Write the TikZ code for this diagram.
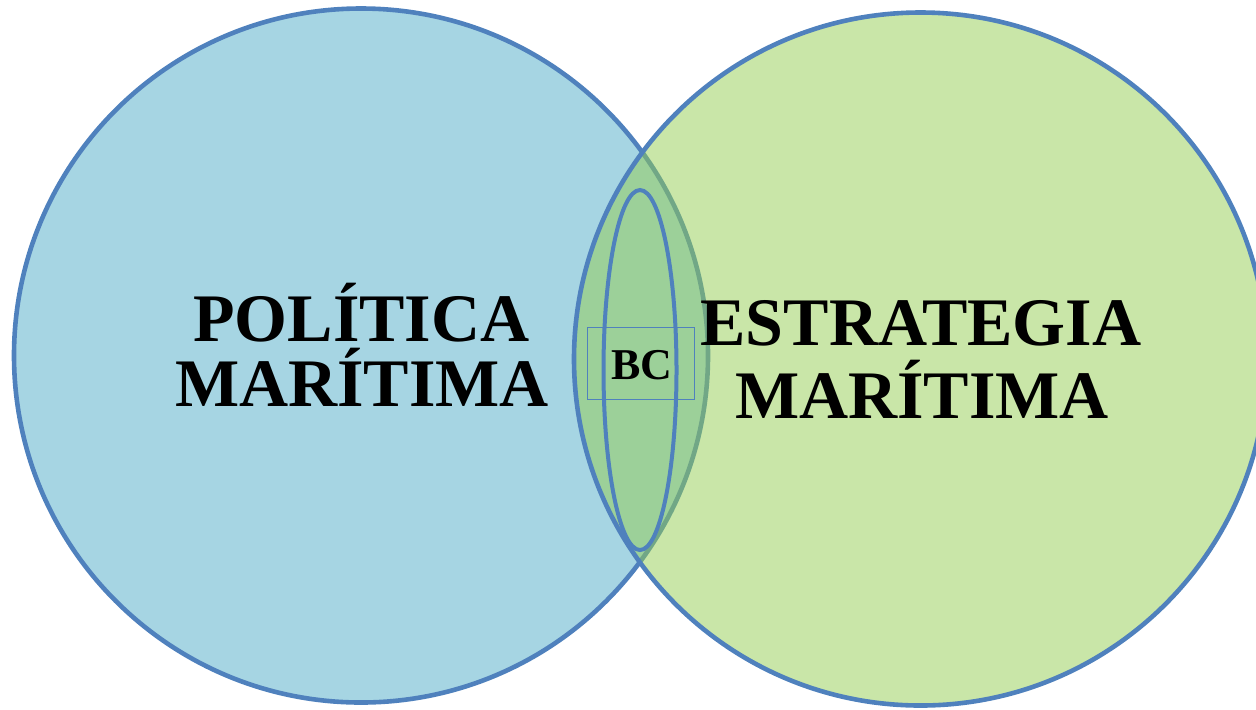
\documentclass[tikz,border=0pt]{standalone}
\usepackage{fontspec}
\setmainfont{Liberation Serif}
\usetikzlibrary{shapes.geometric,positioning}

\definecolor{edgeblue}{RGB}{79,129,189}
\definecolor{polfill}{RGB}{166,213,227}
\definecolor{estfill}{RGB}{147,205,81}

\begin{document}
\begin{tikzpicture}[
  x=0.5pt, y=-0.5pt,
  setcircle/.style={
    circle,
    draw=edgeblue,
    line width=2.3pt,
    inner sep=0pt
  },
  core/.style={
    ellipse,
    draw=edgeblue,
    line width=2pt,
    minimum width=36.5pt,
    minimum height=180pt,
    inner sep=0pt
  },
  tag/.style={
    draw=edgeblue,
    line width=0.6pt,
    minimum width=53.5pt,
    minimum height=35.8pt,
    inner sep=0pt
  },
  bigword/.style={
    font=\fontsize{34}{34}\selectfont\bfseries,
    anchor=base,
    inner sep=0pt
  },
  smallword/.style={
    font=\fontsize{22}{22}\selectfont\bfseries,
    anchor=base,
    inner sep=0pt
  }
]
\useasboundingbox (0,0) rectangle (1256,709);

\node[setcircle, fill=polfill, minimum size=347pt] (pol) at (361,355.5) {};
\node[setcircle, fill=estfill, fill opacity=0.5, minimum size=346.5pt] (est) at (920.5,359) {};

\node[core] (bc) at (640,370) {};
\node[tag] (bcbox) at (640.8,363.5) {};

\node[bigword] (pol1) at (361.5,341.7) {POLÍTICA};
\node[bigword] (pol2) at (362,406.7) {MARÍTIMA};

\node[bigword] (est1) at (921,345) {ESTRATEGIA};
\node[bigword] (est2) at (922,418.3) {MARÍTIMA};

\node[smallword] (bclabel) at (641.7,379) {BC};

\end{tikzpicture}
\end{document}
